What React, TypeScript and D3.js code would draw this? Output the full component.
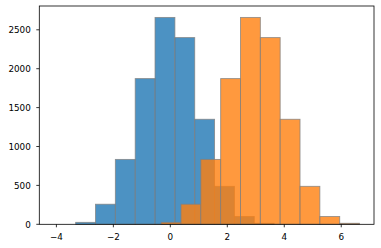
import React from "react";
import * as d3 from "d3";

const blueEdges = [-3.323, -2.626, -1.93, -1.233, -0.537, 0.16, 0.856, 1.553, 2.249, 2.946, 3.642];
const orangeEdges = [-0.323, 0.374, 1.07, 1.767, 2.463, 3.16, 3.856, 4.553, 5.249, 5.946, 6.642];
const blueCounts = [25, 258, 834, 1873, 2659, 2400, 1350, 488, 100, 13];
const orangeCounts = [25, 258, 834, 1873, 2659, 2400, 1350, 488, 100, 13];
const xTicks = [-4, -2, 0, 2, 4, 6];
const yTicks = [0, 500, 1000, 1500, 2000, 2500];

const W = 381;
const H = 248;
const left = 39.3;
const right = 374;
const top = 6;
const bottom = 224.3;

export default function App() {
  const x = d3.scaleLinear().domain([-4.6, 7.15]).range([left, right]);
  const y = d3.scaleLinear().domain([0, 2806]).range([bottom, top]);
  const font = "DejaVu Sans";
  const series = [
    { edges: blueEdges, counts: blueCounts, color: "#1f77b4" },
    { edges: orangeEdges, counts: orangeCounts, color: "#ff7f0e" },
  ];
  return (
    <svg
      width={W}
      height={H}
      style={{ position: "fixed", left: 0, top: 0, background: "#fff" }}
      fontFamily={font}
    >
      <rect x={0} y={0} width={W} height={H} fill="#fff" />
      {series.map((s, si) => (
        <g key={si}>
          {s.counts.map((c, i) => (
            <rect
              key={i}
              x={x(s.edges[i])}
              y={y(c)}
              width={x(s.edges[i + 1]) - x(s.edges[i])}
              height={y(0) - y(c)}
              fill={s.color}
              fillOpacity={0.8}
              stroke="gray"
              strokeOpacity={0.8}
              strokeWidth={0.9}
            />
          ))}
        </g>
      ))}
      <rect
        x={left}
        y={top}
        width={right - left}
        height={bottom - top}
        fill="none"
        stroke="#000"
        strokeWidth={0.8}
      />
      {xTicks.map((t) => (
        <g key={t} transform={`translate(${x(t)},${bottom})`}>
          <line y1={0} y2={3} stroke="#000" strokeWidth={0.8} />
          <text y={15.7} textAnchor="middle" fontSize={8.8} fill="#000">
            {t < 0 ? "\u2212" + Math.abs(t) : String(t)}
          </text>
        </g>
      ))}
      {yTicks.map((t) => (
        <g key={t} transform={`translate(${left},${y(t)})`}>
          <line x1={-3} x2={0} stroke="#000" strokeWidth={0.8} />
          <text x={-8.5} y={3.2} textAnchor="end" fontSize={8.8} fill="#000">
            {String(t)}
          </text>
        </g>
      ))}
    </svg>
  );
}
